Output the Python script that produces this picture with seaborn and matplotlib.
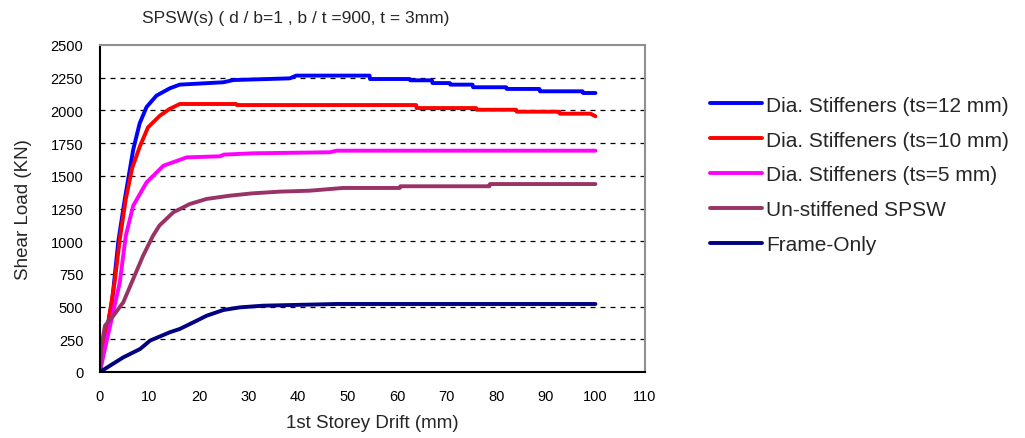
import numpy as np
import pandas as pd
import matplotlib
matplotlib.use('Agg')
import matplotlib.pyplot as plt
import seaborn as sns

# ---- data ----
drift_ts12 = [0, 0.7, 1.7, 2.5, 3.7, 5.0, 6.7, 8.0, 9.4, 11.4, 14.1, 16.1, 20, 24.9, 26.9,
              38.3, 39.6, 54.4, 54.5, 62.5, 62.6, 67, 67.1, 70.6, 70.7, 75.2, 75.3,
              82, 82.1, 88.7, 88.8, 97.4, 97.5, 100]
load_ts12 = [0, 200, 390, 560, 1000, 1320, 1700, 1900, 2026, 2113, 2169, 2197, 2205, 2215, 2232,
             2245, 2266, 2266, 2240, 2240, 2230, 2230, 2209, 2209, 2197, 2197, 2177,
             2177, 2164, 2164, 2146, 2146, 2133, 2133]

drift_ts10 = [0, 0.7, 1.7, 3.0, 4.0, 5.2, 6.5, 8.1, 9.7, 12.1, 14, 16.1, 27.5, 27.6, 63.8,
              63.9, 75.9, 76.0, 84, 84.1, 92.7, 92.8, 99, 100]
load_ts10 = [0, 200, 380, 700, 1017, 1320, 1560, 1730, 1871, 1960, 2010, 2049, 2049, 2041, 2041,
             2018, 2018, 2005, 2005, 1990, 1990, 1975, 1975, 1955]

drift_ts5 = [0, 1.0, 2.2, 4.0, 5.2, 6.7, 9.4, 12.8, 17.5, 24.2, 25, 30.9, 46.4, 47.7, 100]
load_ts5 = [0, 180, 380, 686, 1040, 1271, 1450, 1577, 1641, 1649, 1662, 1672, 1680, 1692, 1692]

drift_unst = [0, 0.3, 1.0, 2.7, 4.7, 6.7, 8.7, 10.7, 12, 14.8, 18.1, 21.5, 26.2, 30.8, 36.3,
              42.3, 49, 60.5, 60.6, 78.6, 78.7, 100]
load_unst = [0, 200, 354, 430, 533, 711, 889, 1042, 1120, 1221, 1284, 1323, 1348, 1366, 1379,
             1386, 1407, 1407, 1420, 1420, 1437, 1437]

drift_frame = [0, 2.0, 4.7, 8.1, 10.1, 14.1, 16.1, 19.5, 21.5, 24.9, 28.2, 32.9, 47.7, 100]
load_frame = [0, 48, 112, 176, 240, 304, 329, 392, 430, 474, 494, 507, 520, 520]

labels = ['Dia. Stiffeners (ts=12 mm)', 'Dia. Stiffeners (ts=10 mm)',
          'Dia. Stiffeners (ts=5 mm)', 'Un-stiffened SPSW', 'Frame-Only']
colors = ['#0000FF', '#FF0000', '#FF00FF', '#993366', '#000080']

x_ticks = list(range(0, 111, 10))
y_ticks = list(range(0, 2501, 250))

series = [(drift_ts12, load_ts12), (drift_ts10, load_ts10), (drift_ts5, load_ts5),
          (drift_unst, load_unst), (drift_frame, load_frame)]
frames = []
for lab, (d, l) in zip(labels, series):
    frames.append(pd.DataFrame({'drift': d, 'load': l, 'case': lab}))
df = pd.concat(frames, ignore_index=True)

sns.set_style('white')
plt.rcParams['font.family'] = ['Liberation Sans', 'DejaVu Sans']

fig = plt.figure(figsize=(10.25, 4.39), dpi=100)
ax = fig.add_axes([100 / 1025, 1 - 373 / 439, 545 / 1025, 327 / 439])

sns.lineplot(data=df, x='drift', y='load', hue='case', hue_order=labels,
             palette=colors, sort=False, estimator=None, lw=2.8, ax=ax)

ax.set_xlim(0, 110)
ax.set_ylim(0, 2500)
ax.set_xticks(x_ticks)
ax.set_yticks(y_ticks)
ax.tick_params(axis='both', direction='inout', length=6, width=1, labelsize=10.5, colors='black')
ax.tick_params(axis='x', pad=9)
ax.tick_params(axis='y', pad=9)
for y in y_ticks[1:-1]:
    ax.axhline(y, color='black', lw=0.9, ls=(0, (4, 4)), zorder=0)

for s in ['left', 'bottom']:
    ax.spines[s].set_color('black')
    ax.spines[s].set_linewidth(1.5)
for s in ['top', 'right']:
    ax.spines[s].set_color('#909090')
    ax.spines[s].set_linewidth(1.5)

ax.set_xlabel('1st Storey Drift (mm)', fontsize=13.5, labelpad=8)
ax.set_ylabel('Shear Load (KN)', fontsize=13.5, labelpad=13)
fig.text(296 / 1025, 1 - 18 / 439, 'SPSW(s) ( d / b=1 , b / t =900, t = 3mm)',
         fontsize=12.5, ha='center', va='center')

ax.legend(loc='upper left', bbox_to_anchor=(691 / 1025, 1 - 78 / 439),
          bbox_transform=fig.transFigure, frameon=False, fontsize=15,
          handlelength=2.5, handletextpad=0.2, labelspacing=0.76)
for line in ax.get_legend().get_lines():
    line.set_linewidth(2.8)

fig.savefig('out.png', dpi=100)
